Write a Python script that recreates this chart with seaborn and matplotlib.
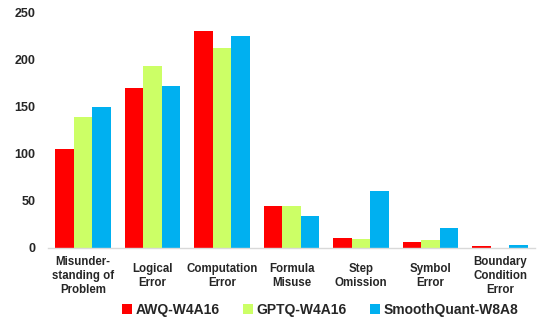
import pandas as pd
import matplotlib.pyplot as plt
import seaborn as sns

categories = ["Misunder-\nstanding of\nProblem", "Logical\nError", "Computation\nError",
              "Formula\nMisuse", "Step\nOmission", "Symbol\nError", "Boundary\nCondition\nError"]
methods = ["AWQ-W4A16", "GPTQ-W4A16", "SmoothQuant-W8A8"]
awq = [105, 170, 230, 44, 11, 6, 2]
gptq = [139, 193, 212, 45, 10, 9, 0]
smoothquant = [149, 172, 225, 34, 60, 21, 3]
colors = ["#FF0000", "#CCFF66", "#00B0F0"]

df = pd.DataFrame({
    "category": categories * 3,
    "method": [methods[0]] * 7 + [methods[1]] * 7 + [methods[2]] * 7,
    "count": awq + gptq + smoothquant,
})

sns.set_style("white")
plt.rcParams['font.family'] = ['Liberation Sans', 'DejaVu Sans']
plt.rcParams['font.weight'] = 'bold'

fig = plt.figure(figsize=(5.37, 3.18), dpi=100)
ax = fig.add_axes([48 / 537, 1 - 248 / 318, 487 / 537, 236 / 318])
sns.barplot(data=df, x="category", y="count", hue="method", palette=colors,
            width=0.8, saturation=1, linewidth=0, ax=ax)

ax.set_ylim(0, 250)
ax.set_yticks([0, 50, 100, 150, 200, 250])
ax.set_xlabel("")
ax.set_ylabel("")
for s in ["top", "right", "left"]:
    ax.spines[s].set_visible(False)
ax.spines["bottom"].set_color("#D9D9D9")
ax.spines["bottom"].set_linewidth(1)
ax.tick_params(axis="y", length=0, labelsize=9, pad=9)
ax.tick_params(axis="x", length=0, labelsize=8.3, pad=20)
for lbl in ax.get_xticklabels():
    lbl.set_va("center")
    lbl.set_ha("center")
    lbl.set_multialignment("center")
    lbl.set_fontweight("bold")
for lbl in ax.get_yticklabels():
    lbl.set_fontweight("bold")

handles, labels = ax.get_legend_handles_labels()
ax.legend(handles, labels, loc="center", bbox_to_anchor=(320 / 537, 1 - 310 / 318),
          bbox_transform=fig.transFigure, ncol=3, frameon=False,
          handlelength=0.7, handleheight=0.7, handletextpad=0.25, columnspacing=1.7,
          prop={"size": 10, "weight": "bold"})

fig.savefig("out.png", dpi=100)
